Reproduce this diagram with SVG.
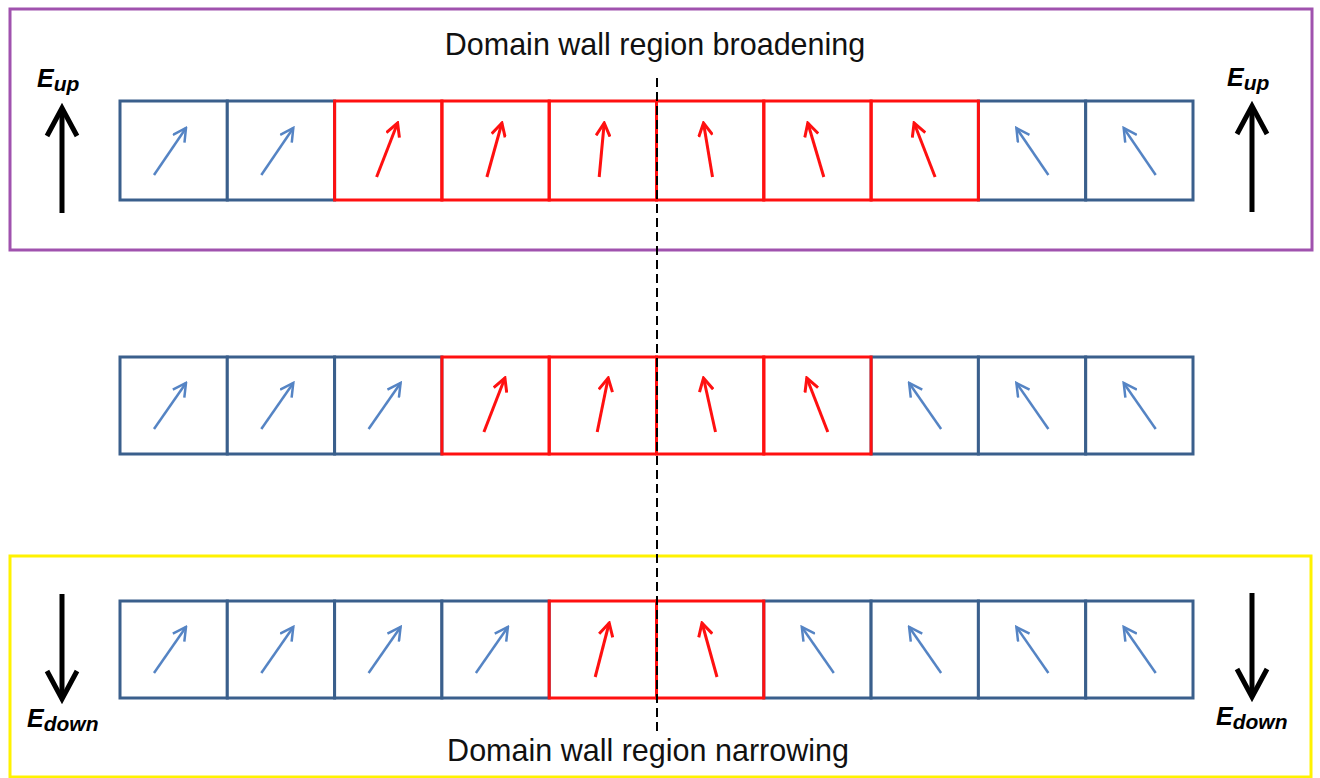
<svg xmlns="http://www.w3.org/2000/svg" width="1320" height="778" viewBox="0 0 1320 778">
<style>
.frame{fill:none;stroke-width:3}
.cb{fill:#fff;stroke:#3A5F8C;stroke-width:3}
.cr{fill:none;stroke:#FF1010;stroke-width:3}
.ab{fill:none;stroke:#5584C4;stroke-width:2.5;marker-end:url(#hb)}
.ar{fill:none;stroke:#FF1010;stroke-width:3;marker-end:url(#hr)}
.big{fill:none;stroke:#000;stroke-width:5;stroke-linejoin:miter}
.cap{font-family:"Liberation Sans",Arial,sans-serif;font-size:30.5px;fill:#111;text-anchor:middle}
.lab{font-family:"Liberation Sans",Arial,sans-serif;font-weight:bold;font-style:italic;fill:#000}
</style>
<defs>
<marker id="hb" viewBox="0 0 16 16" refX="14" refY="8" markerWidth="16" markerHeight="16" markerUnits="userSpaceOnUse" orient="auto">
<path d="M1,1 L14,8 L1,15" fill="none" stroke="#5584C4" stroke-width="2.5"/>
</marker>
<marker id="hr" viewBox="0 0 16 16" refX="14" refY="8" markerWidth="16" markerHeight="16" markerUnits="userSpaceOnUse" orient="auto">
<path d="M1,1 L14,8 L1,15" fill="none" stroke="#FF1010" stroke-width="3"/>
</marker>
</defs>
<rect width="1320" height="778" fill="#fff"/>
<rect id="frame-top" class="frame" x="10" y="9" width="1302" height="241" stroke="#A052AE"/>
<rect id="frame-bottom" class="frame" x="10" y="556" width="1301" height="221" stroke="#FFF200"/>
<text id="title-top" class="cap" x="655" y="55">Domain wall region broadening</text>
<text id="title-bottom" class="cap" x="648" y="761">Domain wall region narrowing</text>

<g id="row-top">
<rect class="cb" x="120" y="101" width="107.3" height="99"/>
<rect class="cb" x="227.3" y="101" width="107.3" height="99"/>
<rect class="cb" x="978.4" y="101" width="107.3" height="99"/>
<rect class="cb" x="1085.7" y="101" width="107.3" height="99"/>
<rect class="cr" x="334.6" y="101" width="107.3" height="99"/>
<rect class="cr" x="441.9" y="101" width="107.3" height="99"/>
<rect class="cr" x="549.2" y="101" width="107.3" height="99"/>
<rect class="cr" x="656.5" y="101" width="107.3" height="99"/>
<rect class="cr" x="763.8" y="101" width="107.3" height="99"/>
<rect class="cr" x="871.1" y="101" width="107.3" height="99"/>
<line class="ab" x1="154" y1="175" x2="186" y2="128"/>
<line class="ab" x1="261.3" y1="175" x2="293.3" y2="128"/>
<line class="ar" x1="376.6" y1="177" x2="397.6" y2="123"/>
<line class="ar" x1="486.9" y1="177" x2="501.9" y2="123"/>
<line class="ar" x1="599.2" y1="177" x2="604.2" y2="123"/>
<line class="ar" x1="712.5" y1="177" x2="703.5" y2="123"/>
<line class="ar" x1="823.8" y1="177" x2="807.8" y2="123"/>
<line class="ar" x1="935.1" y1="177" x2="914.1" y2="123"/>
<line class="ab" x1="1048.4" y1="175" x2="1016.4" y2="128"/>
<line class="ab" x1="1155.7" y1="175" x2="1123.7" y2="128"/>
</g>

<g id="row-middle">
<rect class="cb" x="120" y="357" width="107.3" height="97"/>
<rect class="cb" x="227.3" y="357" width="107.3" height="97"/>
<rect class="cb" x="334.6" y="357" width="107.3" height="97"/>
<rect class="cb" x="871.1" y="357" width="107.3" height="97"/>
<rect class="cb" x="978.4" y="357" width="107.3" height="97"/>
<rect class="cb" x="1085.7" y="357" width="107.3" height="97"/>
<rect class="cr" x="441.9" y="357" width="107.3" height="97"/>
<rect class="cr" x="549.2" y="357" width="107.3" height="97"/>
<rect class="cr" x="656.5" y="357" width="107.3" height="97"/>
<rect class="cr" x="763.8" y="357" width="107.3" height="97"/>
<line class="ab" x1="154" y1="429" x2="186" y2="383"/>
<line class="ab" x1="261.3" y1="429" x2="293.3" y2="383"/>
<line class="ab" x1="368.6" y1="429" x2="400.6" y2="383"/>
<line class="ar" x1="483.9" y1="432" x2="504.9" y2="378"/>
<line class="ar" x1="597.2" y1="432" x2="608.2" y2="378"/>
<line class="ar" x1="715.5" y1="432" x2="703.5" y2="378"/>
<line class="ar" x1="827.8" y1="432" x2="806.8" y2="378"/>
<line class="ab" x1="941.1" y1="429" x2="909.1" y2="383"/>
<line class="ab" x1="1048.4" y1="429" x2="1016.4" y2="383"/>
<line class="ab" x1="1155.7" y1="429" x2="1123.7" y2="383"/>
</g>

<g id="row-bottom">
<rect class="cb" x="120" y="601" width="107.3" height="97"/>
<rect class="cb" x="227.3" y="601" width="107.3" height="97"/>
<rect class="cb" x="334.6" y="601" width="107.3" height="97"/>
<rect class="cb" x="441.9" y="601" width="107.3" height="97"/>
<rect class="cb" x="763.8" y="601" width="107.3" height="97"/>
<rect class="cb" x="871.1" y="601" width="107.3" height="97"/>
<rect class="cb" x="978.4" y="601" width="107.3" height="97"/>
<rect class="cb" x="1085.7" y="601" width="107.3" height="97"/>
<rect class="cr" x="549.2" y="601" width="107.3" height="97"/>
<rect class="cr" x="656.5" y="601" width="107.3" height="97"/>
<line class="ab" x1="154" y1="673" x2="186" y2="627"/>
<line class="ab" x1="261.3" y1="673" x2="293.3" y2="627"/>
<line class="ab" x1="368.6" y1="673" x2="400.6" y2="627"/>
<line class="ab" x1="475.9" y1="673" x2="507.9" y2="627"/>
<line class="ar" x1="595.2" y1="677" x2="609.2" y2="623"/>
<line class="ar" x1="717" y1="677" x2="702" y2="623"/>
<line class="ab" x1="833.8" y1="673" x2="801.8" y2="627"/>
<line class="ab" x1="941.1" y1="673" x2="909.1" y2="627"/>
<line class="ab" x1="1048.4" y1="673" x2="1016.4" y2="627"/>
<line class="ab" x1="1155.7" y1="673" x2="1123.7" y2="627"/>
</g>

<g id="connectors">
<line x1="657" y1="78" x2="657" y2="735" stroke="#000" stroke-width="2" stroke-dasharray="9,5"/>
</g>

<g id="field-up-left">
<line class="big" x1="62" y1="213" x2="62" y2="110"/>
<polyline class="big" points="47,136 62,108 77,136"/>
<text class="lab" x="37" y="87" font-size="25">E<tspan font-size="21" dy="4">up</tspan></text>
</g>
<g id="field-up-right">
<line class="big" x1="1252" y1="212" x2="1252" y2="108"/>
<polyline class="big" points="1237,134 1252,106 1267,134"/>
<text class="lab" x="1227" y="86" font-size="25">E<tspan font-size="21" dy="4">up</tspan></text>
</g>
<g id="field-down-left">
<line class="big" x1="62" y1="594" x2="62" y2="697"/>
<polyline class="big" points="47,671 62,699 77,671"/>
<text class="lab" x="27" y="727" font-size="25">E<tspan font-size="21" dy="4">down</tspan></text>
</g>
<g id="field-down-right">
<line class="big" x1="1252" y1="593" x2="1252" y2="695"/>
<polyline class="big" points="1237,669 1252,697 1267,669"/>
<text class="lab" x="1216" y="725" font-size="25">E<tspan font-size="21" dy="4">down</tspan></text>
</g>
</svg>
